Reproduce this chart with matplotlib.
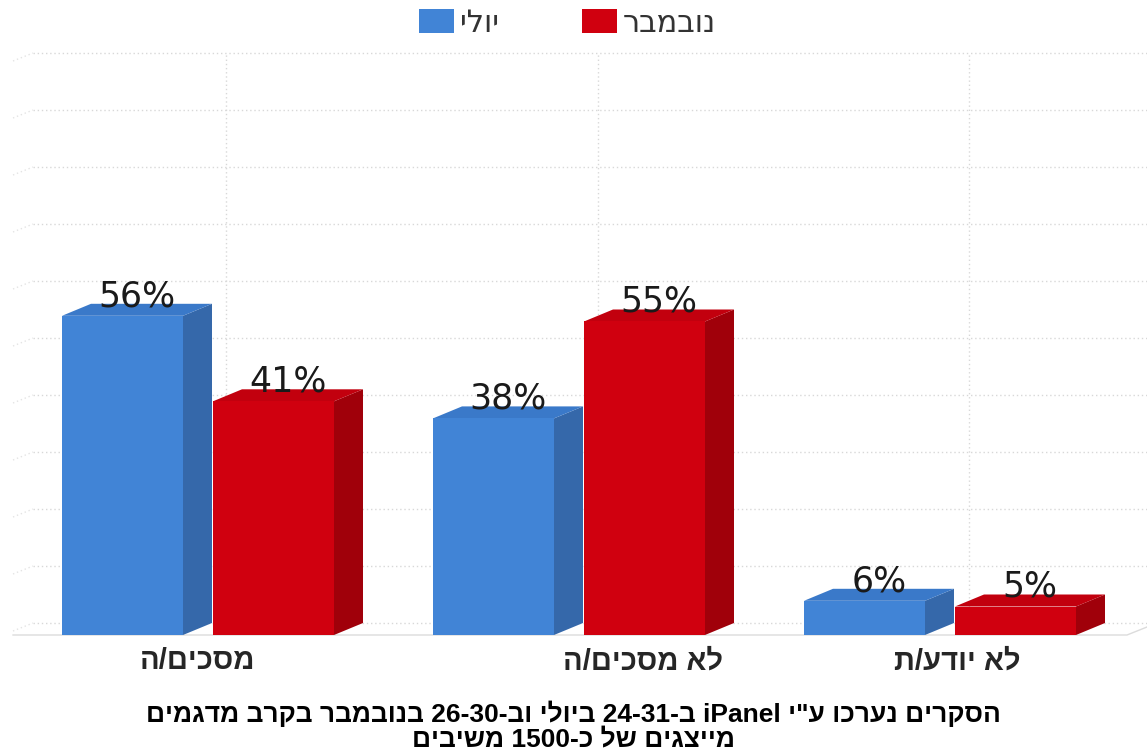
import re
import matplotlib
matplotlib.use("Agg")
import matplotlib.pyplot as plt
from matplotlib.patches import Polygon, Patch

# DATA
categories = ["מסכים/ה", "לא מסכים/ה", "לא יודע/ת"]
series_names = ["יולי", "נובמבר"]
july = [56, 38, 6]
november = [41, 55, 5]
footnote = ['הסקרים נערכו ע"י iPanel ב-24-31 ביולי וב-26-30 בנובמבר בקרב מדגמים',
            'מייצגים של כ-1500 משיבים']


def rtl(s):
    # matplotlib has no bidi support: flip to visual order, keep latin/digit runs LTR
    r = s[::-1]
    return re.sub(r'[A-Za-z0-9]+(?:-[A-Za-z0-9]+)*', lambda m: m.group(0)[::-1], r)


# LAYOUT (pixel based)
W, H = 1147, 750
x0_px, step_px = 212, 371      # centre of first category, category spacing
y0_px, scale = 635, 5.7        # baseline pixel, pixels per percent

w = 121 / step_px              # front face width
dx = 29 / step_px              # depth (x)
dy = 12 / scale                # depth (y)
offsets = [-150 / step_px, 1 / step_px]
label_shift = [-14, 60, 3]     # category label nudges, px

colors = [("#4184d6", "#3a79c9", "#3568aa"),
          ("#d0000f", "#c2000e", "#a0000a")]

fig = plt.figure(figsize=(W / 100, H / 100), dpi=100)
ax = fig.add_axes([0, 0, 1, 1])
ax.set_xlim(-x0_px / step_px, (W - x0_px) / step_px)
ax.set_ylim(-(H - y0_px) / scale, y0_px / scale)
ax.axis("off")

# back wall grid
xl = (33 - x0_px) / step_px
xr = ax.get_xlim()[1]
wall_dx, wall_dy = 20 / step_px, 8 / scale
grid_kw = dict(color="#d8d8d8", lw=1, ls=(0, (1, 2)), zorder=0)
for k in range(0, 11):
    yg = 10 * k + dy
    ax.plot([xl, xr], [yg, yg], **grid_kw)
    ax.plot([xl - wall_dx, xl], [yg - wall_dy, yg], color="#e4e4e4", lw=1,
            ls=(0, (1, 2)), zorder=0)
for i in range(len(categories)):
    ax.plot([i + dx / 2, i + dx / 2], [dy, 100 + dy], **grid_kw)

# floor front edge
ax.plot([xl - wall_dx, xr - wall_dx, xr], [0, 0, wall_dy], color="#dcdcdc", lw=1, zorder=0)

# bars
for s, vals in enumerate([july, november]):
    front, top, side = colors[s]
    for i, v in enumerate(vals):
        x = i + offsets[s]
        ax.add_patch(Polygon([(x + w, 0), (x + w + dx, dy), (x + w + dx, v + dy), (x + w, v)],
                             closed=True, facecolor=side, edgecolor="none", zorder=2))
        ax.add_patch(Polygon([(x, v), (x + w, v), (x + w + dx, v + dy), (x + dx, v + dy)],
                             closed=True, facecolor=top, edgecolor="none", zorder=2))
        ax.add_patch(Polygon([(x, 0), (x + w, 0), (x + w, v), (x, v)],
                             closed=True, facecolor=front, edgecolor="none", zorder=3))
        ax.text(x + (w + dx) / 2, v + dy - 0.4, f"{v}%", ha="center", va="baseline",
                fontsize=25, family="DejaVu Sans", color="#1a1a1a", zorder=4)

# category labels
for i, c in enumerate(categories):
    ax.text(i + label_shift[i] / step_px, -4.6, rtl(c), ha="center", va="center",
            fontsize=21, fontweight="bold", family="Liberation Sans", color="#262626")

# footnote
fig.text(0.5, 1 - 714 / H, rtl(footnote[0]), ha="center", va="center", fontsize=19,
         fontweight="bold", family="Liberation Sans", color="#000000")
fig.text(0.5, 1 - 739 / H, rtl(footnote[1]), ha="center", va="center", fontsize=19,
         fontweight="bold", family="Liberation Sans", color="#000000")

# legend
handles = [Patch(facecolor=colors[s][0], edgecolor="none") for s in range(2)]
fig.legend(handles, [rtl(n) for n in series_names], loc="center",
           bbox_to_anchor=(0.495, 0.969), ncol=2, frameon=False,
           prop={"family": "DejaVu Sans", "size": 22}, labelcolor="#333333",
           handlelength=1.14, handleheight=0.85, handletextpad=0.2, columnspacing=2.7)

fig.savefig("out.png", dpi=100)
